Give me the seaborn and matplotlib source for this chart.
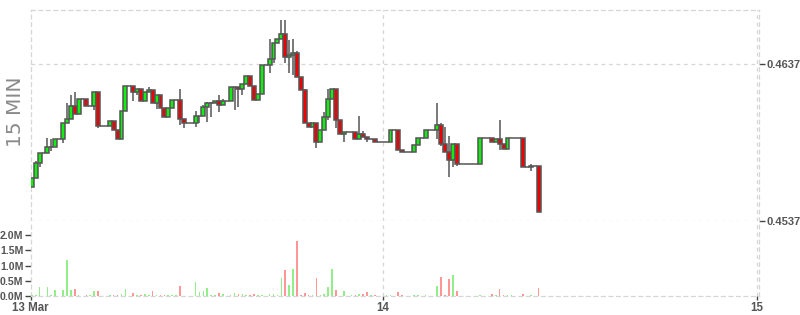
import numpy as np
import pandas as pd
import matplotlib
matplotlib.use("Agg")
import matplotlib.pyplot as plt
import seaborn as sns

# ---------------- data (15-minute candles, 13 Mar 01:30 onwards) ----------------
opens = [
    0.45590, 0.45644, 0.45739, 0.45805, 0.45805, 0.45841, 0.45841, 0.45896, 0.45896, 0.45994,
    0.46020, 0.46102, 0.46053, 0.46151, 0.46151, 0.46102, 0.46102, 0.46192, 0.45979, 0.45979,
    0.45979, 0.46011, 0.45952, 0.45897, 0.46071, 0.46232, 0.46232, 0.46192, 0.46211, 0.46136,
    0.46194, 0.46204, 0.46122, 0.46173, 0.46090, 0.46032, 0.46090, 0.46143, 0.46143, 0.46020,
    0.45994, 0.45994, 0.45994, 0.46039, 0.46039, 0.46100, 0.46122, 0.46122, 0.46134, 0.46109,
    0.46134, 0.46134, 0.46224, 0.46224, 0.46211, 0.46245, 0.46294, 0.46230, 0.46141, 0.46179,
    0.46364, 0.46364, 0.46402, 0.46504, 0.46533, 0.46561, 0.46417, 0.46431, 0.46440, 0.46291,
    0.46206, 0.45994, 0.45969, 0.45994, 0.45873, 0.45950, 0.46036, 0.46151, 0.46211, 0.46013,
    0.45924, 0.45941, 0.45941, 0.45941, 0.45892, 0.45924, 0.45909, 0.45896, 0.45896, 0.45873,
    0.45873, 0.45873, 0.45873, 0.45950, 0.45950, 0.45822, 0.45811, 0.45811, 0.45811, 0.45854,
    0.45899, 0.45899, 0.45950, 0.45950, 0.45950, 0.45981, 0.45860, 0.45811, 0.45759, 0.45860,
    0.45735, 0.45735, 0.45735, 0.45735, 0.45735, 0.45735, 0.45899, 0.45899, 0.45899, 0.45877,
    0.45892, 0.45860, 0.45829, 0.45899, 0.45899, 0.45899, 0.45899, 0.45714, 0.45714, 0.45720,
    0.45720,
]
closes = [
    0.45644, 0.45739, 0.45805, 0.45805, 0.45841, 0.45841, 0.45896, 0.45896, 0.45994, 0.46020,
    0.46102, 0.46053, 0.46151, 0.46151, 0.46102, 0.46102, 0.46192, 0.45979, 0.45979, 0.45979,
    0.46011, 0.45952, 0.45897, 0.46071, 0.46232, 0.46232, 0.46192, 0.46211, 0.46136, 0.46194,
    0.46204, 0.46122, 0.46173, 0.46090, 0.46032, 0.46090, 0.46143, 0.46143, 0.46020, 0.45994,
    0.45994, 0.45994, 0.46039, 0.46039, 0.46100, 0.46122, 0.46122, 0.46134, 0.46109, 0.46134,
    0.46134, 0.46224, 0.46224, 0.46211, 0.46245, 0.46294, 0.46230, 0.46141, 0.46179, 0.46364,
    0.46364, 0.46402, 0.46504, 0.46533, 0.46561, 0.46417, 0.46431, 0.46440, 0.46291, 0.46206,
    0.45994, 0.45969, 0.45994, 0.45873, 0.45950, 0.46036, 0.46151, 0.46211, 0.46013, 0.45924,
    0.45941, 0.45941, 0.45941, 0.45892, 0.45924, 0.45909, 0.45896, 0.45896, 0.45873, 0.45873,
    0.45873, 0.45873, 0.45950, 0.45950, 0.45822, 0.45811, 0.45811, 0.45811, 0.45854, 0.45899,
    0.45899, 0.45950, 0.45950, 0.45950, 0.45981, 0.45860, 0.45811, 0.45759, 0.45860, 0.45735,
    0.45735, 0.45735, 0.45735, 0.45735, 0.45735, 0.45899, 0.45899, 0.45899, 0.45877, 0.45892,
    0.45860, 0.45829, 0.45899, 0.45899, 0.45899, 0.45899, 0.45714, 0.45714, 0.45720, 0.45720,
    0.45431,
]
highs = [
    0.45644, 0.45754, 0.45805, 0.45805, 0.45901, 0.45896, 0.45896, 0.45896, 0.45994, 0.46125,
    0.46174, 0.46196, 0.46151, 0.46151, 0.46151, 0.46102, 0.46192, 0.46192, 0.45979, 0.45979,
    0.46011, 0.46011, 0.45952, 0.46071, 0.46232, 0.46232, 0.46232, 0.46211, 0.46211, 0.46194,
    0.46224, 0.46204, 0.46173, 0.46173, 0.46090, 0.46090, 0.46143, 0.46143, 0.46213, 0.46020,
    0.45994, 0.45994, 0.46071, 0.46039, 0.46111, 0.46130, 0.46130, 0.46134, 0.46173, 0.46151,
    0.46134, 0.46224, 0.46224, 0.46224, 0.46245, 0.46294, 0.46294, 0.46230, 0.46179, 0.46364,
    0.46364, 0.46529, 0.46504, 0.46533, 0.46652, 0.46652, 0.46525, 0.46529, 0.46455, 0.46291,
    0.46213, 0.45994, 0.45994, 0.45994, 0.45950, 0.46068, 0.46211, 0.46211, 0.46211, 0.46013,
    0.45941, 0.45941, 0.45941, 0.45941, 0.46041, 0.45945, 0.45909, 0.45896, 0.45896, 0.45873,
    0.45873, 0.45873, 0.45950, 0.45950, 0.45950, 0.45822, 0.45811, 0.45811, 0.45854, 0.45899,
    0.45899, 0.45950, 0.45950, 0.45950, 0.46125, 0.45994, 0.45973, 0.45913, 0.45860, 0.45860,
    0.45735, 0.45735, 0.45735, 0.45735, 0.45735, 0.45899, 0.45899, 0.45899, 0.45899, 0.45892,
    0.46015, 0.45860, 0.45899, 0.45899, 0.45899, 0.45899, 0.45899, 0.45714, 0.45735, 0.45720,
    0.45720,
]
lows = [
    0.45590, 0.45644, 0.45718, 0.45805, 0.45805, 0.45820, 0.45841, 0.45896, 0.45871, 0.45994,
    0.46020, 0.46053, 0.46053, 0.46151, 0.46102, 0.46102, 0.46079, 0.45962, 0.45979, 0.45979,
    0.45979, 0.45952, 0.45897, 0.45897, 0.46071, 0.46232, 0.46136, 0.46174, 0.46136, 0.46136,
    0.46194, 0.46122, 0.46087, 0.46090, 0.46032, 0.46032, 0.46090, 0.46143, 0.45981, 0.45964,
    0.45994, 0.45994, 0.45969, 0.45994, 0.46039, 0.46003, 0.46034, 0.46122, 0.46066, 0.46109,
    0.46134, 0.46134, 0.46081, 0.46098, 0.46173, 0.46245, 0.46230, 0.46141, 0.46141, 0.46179,
    0.46364, 0.46317, 0.46376, 0.46504, 0.46533, 0.46376, 0.46313, 0.46302, 0.46291, 0.46206,
    0.45994, 0.45969, 0.45969, 0.45839, 0.45873, 0.45950, 0.46015, 0.46151, 0.45966, 0.45924,
    0.45877, 0.45941, 0.45941, 0.45892, 0.45892, 0.45909, 0.45877, 0.45896, 0.45873, 0.45873,
    0.45873, 0.45873, 0.45873, 0.45950, 0.45822, 0.45811, 0.45811, 0.45811, 0.45811, 0.45854,
    0.45899, 0.45899, 0.45950, 0.45950, 0.45892, 0.45850, 0.45811, 0.45650, 0.45718, 0.45722,
    0.45735, 0.45735, 0.45735, 0.45735, 0.45735, 0.45735, 0.45899, 0.45899, 0.45877, 0.45877,
    0.45824, 0.45829, 0.45829, 0.45899, 0.45899, 0.45899, 0.45714, 0.45714, 0.45689, 0.45720,
    0.45431,
]
volumes_m = [
    0.02, 0.03, 0.30, 0.01, 0.30, 0.04, 0.20, 0.01, 0.20, 1.17,
    0.20, 0.24, 0.04, 0.01, 0.02, 0.02, 0.18, 0.18, 0.01, 0.01,
    0.02, 0.02, 0.02, 0.05, 0.24, 0.01, 0.10, 0.02, 0.02, 0.05,
    0.02, 0.17, 0.02, 0.04, 0.04, 0.02, 0.02, 0.02, 0.34, 0.01,
    0.01, 0.01, 0.47, 0.14, 0.17, 0.27, 0.04, 0.04, 0.10, 0.06,
    0.01, 0.04, 0.10, 0.06, 0.07, 0.04, 0.04, 0.08, 0.04, 0.02,
    0.01, 0.07, 0.07, 0.04, 0.60, 0.86, 0.37, 0.89, 1.80, 0.02,
    0.11, 0.02, 0.02, 0.59, 0.02, 0.05, 0.30, 0.89, 0.21, 0.01,
    0.17, 0.01, 0.02, 0.02, 0.07, 0.05, 0.14, 0.02, 0.02, 0.00,
    0.00, 0.02, 0.02, 0.00, 0.14, 0.02, 0.00, 0.00, 0.02, 0.04,
    0.00, 0.02, 0.00, 0.00, 0.33, 0.63, 0.03, 0.57, 0.69, 0.17,
    0.00, 0.00, 0.00, 0.00, 0.00, 0.04, 0.00, 0.00, 0.08, 0.04,
    0.23, 0.04, 0.04, 0.02, 0.00, 0.00, 0.08, 0.00, 0.03, 0.00,
    0.26,
]
start_day = 13            # 13 Mar
start_hour = 1.5          # first candle at 01:30
candle_minutes = 15
price_ticks = [0.4537, 0.4637]
price_tick_labels = ["0.4537", "0.4637"]
vol_ticks_m = [0.0, 0.5, 1.0, 1.5, 2.0]
vol_tick_labels = ["0.0M", "0.5M", "1.0M", "1.5M", "2.0M"]
day_ticks = [14, 15]
x_tick_labels = ["13 Mar", "14", "15"]
panel_label = "15 MIN"

# ---------------- style ----------------
sns.set_theme(style="white")
plt.rcParams["font.family"] = ["Liberation Sans", "DejaVu Sans"]

n = len(closes)
x = start_day + start_hour / 24 + np.arange(n) * candle_minutes / 1440
df = pd.DataFrame({"x": x, "open": opens, "high": highs, "low": lows,
                   "close": closes, "volume": np.array(volumes_m) * 1e6})
df["up"] = df["close"] >= df["open"]

W, H = 800, 315
fig = plt.figure(figsize=(8, 3.15), dpi=100)
left_px, right_px = 30.5, 759.0
ax_p = fig.add_axes([left_px / W, 1 - 221.3 / H, (right_px - left_px) / W, (221.3 - 10.3) / H])
ax_v = fig.add_axes([left_px / W, 1 - 296 / H, (right_px - left_px) / W, (296 - 221.3) / H],
                    sharex=ax_p)

x_left = start_day + (1 + 25 / 60) / 24
x_right = 15 + 2 / 374
grid_kw = dict(color="#d6d6d6", linestyle=(0, (3, 3)), linewidth=0.9)
edge = "#555555"
green, red = "#0ef00e", "#f00000"

# candles
w = candle_minutes / 1440
ax_p.vlines(df["x"], df["low"], df["high"], color=edge, linewidth=1.1, zorder=2)
body_bottom = np.minimum(df["open"], df["close"])
body_h = np.abs(df["close"] - df["open"])
ax_p.bar(df["x"], body_h, bottom=body_bottom, width=w,
         color=np.where(df["up"], green, red), edgecolor=edge, linewidth=1.1, zorder=3)

ax_p.set_xlim(x_left, x_right)
ax_p.set_ylim(0.4537, 0.46714)
ax_p.yaxis.tick_right()
ax_p.set_yticks(price_ticks)
ax_p.set_yticklabels(price_tick_labels)
ax_p.tick_params(axis="y", which="both", right=True, left=False, length=4, width=1,
                 color="#444444", labelsize=8.0, labelcolor="#555555", pad=1.5)
for t in ax_p.get_yticklabels():
    t.set_fontweight("bold")
ax_p.tick_params(axis="x", bottom=False, labelbottom=False)
for yv in price_ticks:
    ax_p.axhline(yv, zorder=0, **grid_kw)
for d in day_ticks:
    ax_p.axvline(d, zorder=0, **grid_kw)
for s in ["top", "left", "right"]:
    ax_p.spines[s].set_visible(True)
    ax_p.spines[s].set_color("#d6d6d6")
    ax_p.spines[s].set_linestyle((0, (3, 3)))
    ax_p.spines[s].set_linewidth(0.9)
ax_p.spines["bottom"].set_visible(False)
ax_p.set_facecolor("white")

# volume
vcol = np.where(df["up"], "#92ee88", "#ff9696")
ax_v.bar(df["x"], df["volume"], width=w * 0.42, color=vcol, linewidth=0, zorder=3)
ax_v.set_ylim(0, 2.46e6)
ax_v.set_yticks([v * 1e6 for v in vol_ticks_m])
ax_v.set_yticklabels(vol_tick_labels)
ax_v.tick_params(axis="y", left=True, length=4, width=1, color="#444444",
                 labelsize=7.6, labelcolor="#555555", pad=1)
for t in ax_v.get_yticklabels():
    t.set_fontweight("bold")
ax_v.set_xticks([x_left] + day_ticks)
ax_v.set_xticklabels(x_tick_labels)
ax_v.tick_params(axis="x", bottom=True, length=3, width=1, color="#444444",
                 labelsize=8.3, labelcolor="#555555", pad=1.5)
for t in ax_v.get_xticklabels():
    t.set_fontweight("bold")
for d in day_ticks:
    ax_v.axvline(d, zorder=0, **grid_kw)
for s in ["left", "right", "bottom"]:
    ax_v.spines[s].set_visible(True)
    ax_v.spines[s].set_color("#d6d6d6")
    ax_v.spines[s].set_linestyle((0, (3, 3)))
    ax_v.spines[s].set_linewidth(0.9)
ax_v.spines["top"].set_visible(False)
ax_v.set_xlim(x_left, x_right)

fig.text(15.5 / W, 1 - 112 / H, panel_label, rotation=90, ha="center", va="center",
         fontsize=14.5, color="#8a8a8a", family=["DejaVu Sans"])

fig.savefig("out.png", dpi=100, facecolor="white")
